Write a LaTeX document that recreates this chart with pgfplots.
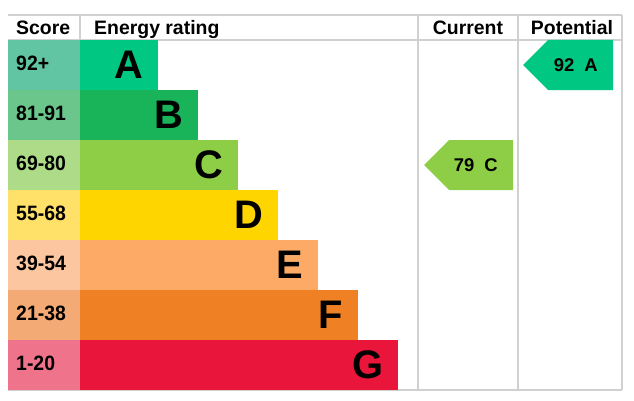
\documentclass[border=0pt]{standalone}
\usepackage{pgfplots}
\pgfplotsset{compat=1.18}
\usepackage{fontspec}
\setmainfont{Liberation Sans}
\definecolor{barA}{HTML}{00C781}
\definecolor{barB}{HTML}{19B459}
\definecolor{barC}{HTML}{8DCE46}
\definecolor{barD}{HTML}{FFD500}
\definecolor{barE}{HTML}{FCAA65}
\definecolor{barF}{HTML}{EF8023}
\definecolor{barG}{HTML}{E9153B}
\definecolor{scA}{HTML}{61C4A3}
\definecolor{scB}{HTML}{6AC68A}
\definecolor{scC}{HTML}{ADDB88}
\definecolor{scD}{HTML}{FFE069}
\definecolor{scE}{HTML}{FCC7A0}
\definecolor{scF}{HTML}{F4AA75}
\definecolor{scG}{HTML}{F0738C}
\definecolor{gridc}{HTML}{D0D0D0}
\newcommand{\hdrfont}{\fontsize{19.5}{20}\selectfont\bfseries}
\newcommand{\ratingfont}{\fontsize{40}{40}\selectfont\bfseries}
\newcommand{\scorelbl}[1]{\scalebox{1}[1.07]{\hdrfont #1}}
\begin{document}
\begin{tikzpicture}
\begin{axis}[width=634bp,height=401bp,scale only axis,
  xmin=0,xmax=634,ymin=0,ymax=401,y dir=reverse,
  hide axis,clip=false]
\path (axis cs:0,0) rectangle (axis cs:634,401);
% grid lines
\addplot[gridc,line width=1.3bp] coordinates {(8,15) (622,15)};
\addplot[gridc,line width=1.3bp] coordinates {(8,40) (622,40)};
\addplot[gridc,line width=1.3bp] coordinates {(8,390) (622,390)};
\addplot[gridc,line width=1.3bp] coordinates {(80,15) (80,40)};
\addplot[gridc,line width=1.3bp] coordinates {(418,15) (418,390)};
\addplot[gridc,line width=1.3bp] coordinates {(518,15) (518,390)};
\addplot[gridc,line width=1.3bp] coordinates {(622,15) (622,390)};
% score cells
\addplot[fill=scA,draw=none] coordinates {(8,40) (80,40) (80,90) (8,90)} --cycle;
\addplot[fill=scB,draw=none] coordinates {(8,90) (80,90) (80,140) (8,140)} --cycle;
\addplot[fill=scC,draw=none] coordinates {(8,140) (80,140) (80,190) (8,190)} --cycle;
\addplot[fill=scD,draw=none] coordinates {(8,190) (80,190) (80,240) (8,240)} --cycle;
\addplot[fill=scE,draw=none] coordinates {(8,240) (80,240) (80,290) (8,290)} --cycle;
\addplot[fill=scF,draw=none] coordinates {(8,290) (80,290) (80,340) (8,340)} --cycle;
\addplot[fill=scG,draw=none] coordinates {(8,340) (80,340) (80,390) (8,390)} --cycle;
% bars
\addplot[fill=barA,draw=none] coordinates {(80,40) (158,40) (158,90) (80,90)} --cycle;
\addplot[fill=barB,draw=none] coordinates {(80,90) (198,90) (198,140) (80,140)} --cycle;
\addplot[fill=barC,draw=none] coordinates {(80,140) (238,140) (238,190) (80,190)} --cycle;
\addplot[fill=barD,draw=none] coordinates {(80,190) (278,190) (278,240) (80,240)} --cycle;
\addplot[fill=barE,draw=none] coordinates {(80,240) (318,240) (318,290) (80,290)} --cycle;
\addplot[fill=barF,draw=none] coordinates {(80,290) (358,290) (358,340) (80,340)} --cycle;
\addplot[fill=barG,draw=none] coordinates {(80,340) (398,340) (398,390) (80,390)} --cycle;
% arrows
\addplot[fill=barC,draw=none] coordinates {(424,165) (449,140) (513,140) (513,190) (449,190)} --cycle;
\addplot[fill=barA,draw=none] coordinates {(523,65) (548,40) (613,40) (613,90) (548,90)} --cycle;
% headers
\node[anchor=base west,inner sep=0] at (axis cs:16,34.5) {\hdrfont Score};
\node[anchor=base west,inner sep=0] at (axis cs:94,34.5) {\hdrfont Energy rating};
\node[anchor=base,inner sep=0] at (axis cs:468,34.5) {\hdrfont Current};
\node[anchor=base,inner sep=0] at (axis cs:572,34.5) {\hdrfont Potential};
% score labels
\node[anchor=west,inner sep=0] at (axis cs:16,63) {\scorelbl{92+}};
\node[anchor=west,inner sep=0] at (axis cs:16,113) {\scorelbl{81-91}};
\node[anchor=west,inner sep=0] at (axis cs:16,163) {\scorelbl{69-80}};
\node[anchor=west,inner sep=0] at (axis cs:16,213) {\scorelbl{55-68}};
\node[anchor=west,inner sep=0] at (axis cs:16,263) {\scorelbl{39-54}};
\node[anchor=west,inner sep=0] at (axis cs:16,313) {\scorelbl{21-38}};
\node[anchor=west,inner sep=0] at (axis cs:16,363) {\scorelbl{1-20}};
% letters
\node[anchor=east,inner sep=0] at (axis cs:143,65) {\ratingfont A};
\node[anchor=east,inner sep=0] at (axis cs:183,115) {\ratingfont B};
\node[anchor=east,inner sep=0] at (axis cs:223,165) {\ratingfont C};
\node[anchor=east,inner sep=0] at (axis cs:263,215) {\ratingfont D};
\node[anchor=east,inner sep=0] at (axis cs:303,265) {\ratingfont E};
\node[anchor=east,inner sep=0] at (axis cs:343,315) {\ratingfont F};
\node[anchor=east,inner sep=0] at (axis cs:384,365) {\ratingfont G};
% arrow labels
\node[anchor=east,inner sep=0] at (axis cs:498,165) {\fontsize{18.5}{19}\selectfont\bfseries 79~~C};
\node[anchor=east,inner sep=0] at (axis cs:598,65) {\fontsize{18.5}{19}\selectfont\bfseries 92~~A};
\end{axis}
\end{tikzpicture}
\end{document}
